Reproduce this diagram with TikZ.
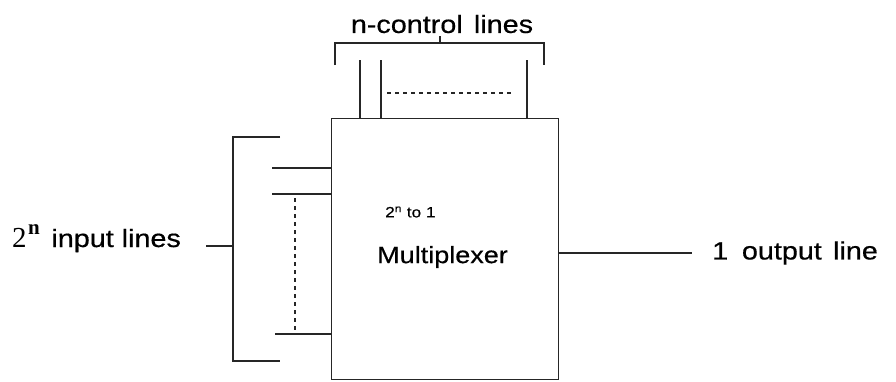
\documentclass[tikz,border=0pt]{standalone}
\usepackage{fontspec}
\setmainfont{Liberation Sans}
\newfontfamily\timesf{Liberation Serif}
\newfontfamily\labf[FakeStretch=1.15,FakeBold=0.5]{Liberation Sans}
\begin{document}
\begin{tikzpicture}[x=1pt,y=-1pt,
  wire/.style={line width=1.3pt,black!85},
  dotw/.style={line width=1.3pt,black!85,dash pattern=on 4pt off 4pt},
  lbl/.style={font=\labf\fontsize{25}{28}\selectfont,inner sep=0pt,anchor=west},
]
\useasboundingbox[fill=white] (0,0) rectangle (896,381);
% multiplexer box
\node[draw,line width=1.3pt,black!85,minimum width=227pt,minimum height=261pt,inner sep=0pt,anchor=north west] (mux) at (331,118) {};
\node[font=\labf\fontsize{15}{18}\selectfont,inner sep=0pt,anchor=west] (ratio) at (385,212) {2\textsuperscript{n} to 1};
\node[lbl,font=\labf\fontsize{23.5}{28}\selectfont] (mname) at (377,257) {Multiplexer};
% output
\coordinate (oin) at (558,253);
\coordinate (oout) at (692,253);
\draw[wire] (oin) -- (oout);
\node[lbl] (otxt) at (712,253) {1\hspace{0.55em}output\hspace{0.45em}line};
% control lines
\coordinate (c1t) at (360,60); \coordinate (c1b) at (360,118);
\coordinate (c2t) at (381,60); \coordinate (c2b) at (381,118);
\coordinate (c3t) at (527,60); \coordinate (c3b) at (527,118);
\draw[wire] (c1t) -- (c1b);
\draw[wire] (c2t) -- (c2b);
\draw[wire] (c3t) -- (c3b);
\coordinate (cd1) at (387,93); \coordinate (cd2) at (514,93);
\draw[dotw] (cd1) -- (cd2);
\coordinate (cbl) at (335,65); \coordinate (cbr) at (544,65);
\coordinate (ctk) at (440,36);
\draw[wire] (cbl) -- (335,43) -- (544,43) -- (cbr);
\draw[wire] (ctk) -- (440,43);
\node[lbl,anchor=center] (ctxt) at (442,24) {n-control\hspace{0.45em}lines};
% input lines
\coordinate (i1) at (272,168); \coordinate (i2) at (272,194); \coordinate (i3) at (275,334);
\draw[wire] (i1) -- (i1 -| mux.west);
\draw[wire] (i2) -- (i2 -| mux.west);
\draw[wire] (i3) -- (i3 -| mux.west);
\coordinate (id1) at (295,198); \coordinate (id2) at (295,330);
\draw[dotw] (id1) -- (id2);
\coordinate (ibt) at (280,137); \coordinate (ibb) at (280,361);
\coordinate (itk) at (206,246);
\draw[wire] (ibt) -- (233,137) -- (233,361) -- (ibb);
\draw[wire] (itk) -- (233,246);
\node[inner sep=0pt,anchor=base west] (itxt) at (12,247) {\timesf\fontsize{29}{32}\selectfont 2\hspace{0.05em}\raisebox{0.42em}{\fontsize{21}{22}\selectfont\bfseries n}\hspace{0.4em}\labf\fontsize{25}{28}\selectfont input lines};
\end{tikzpicture}
\end{document}
